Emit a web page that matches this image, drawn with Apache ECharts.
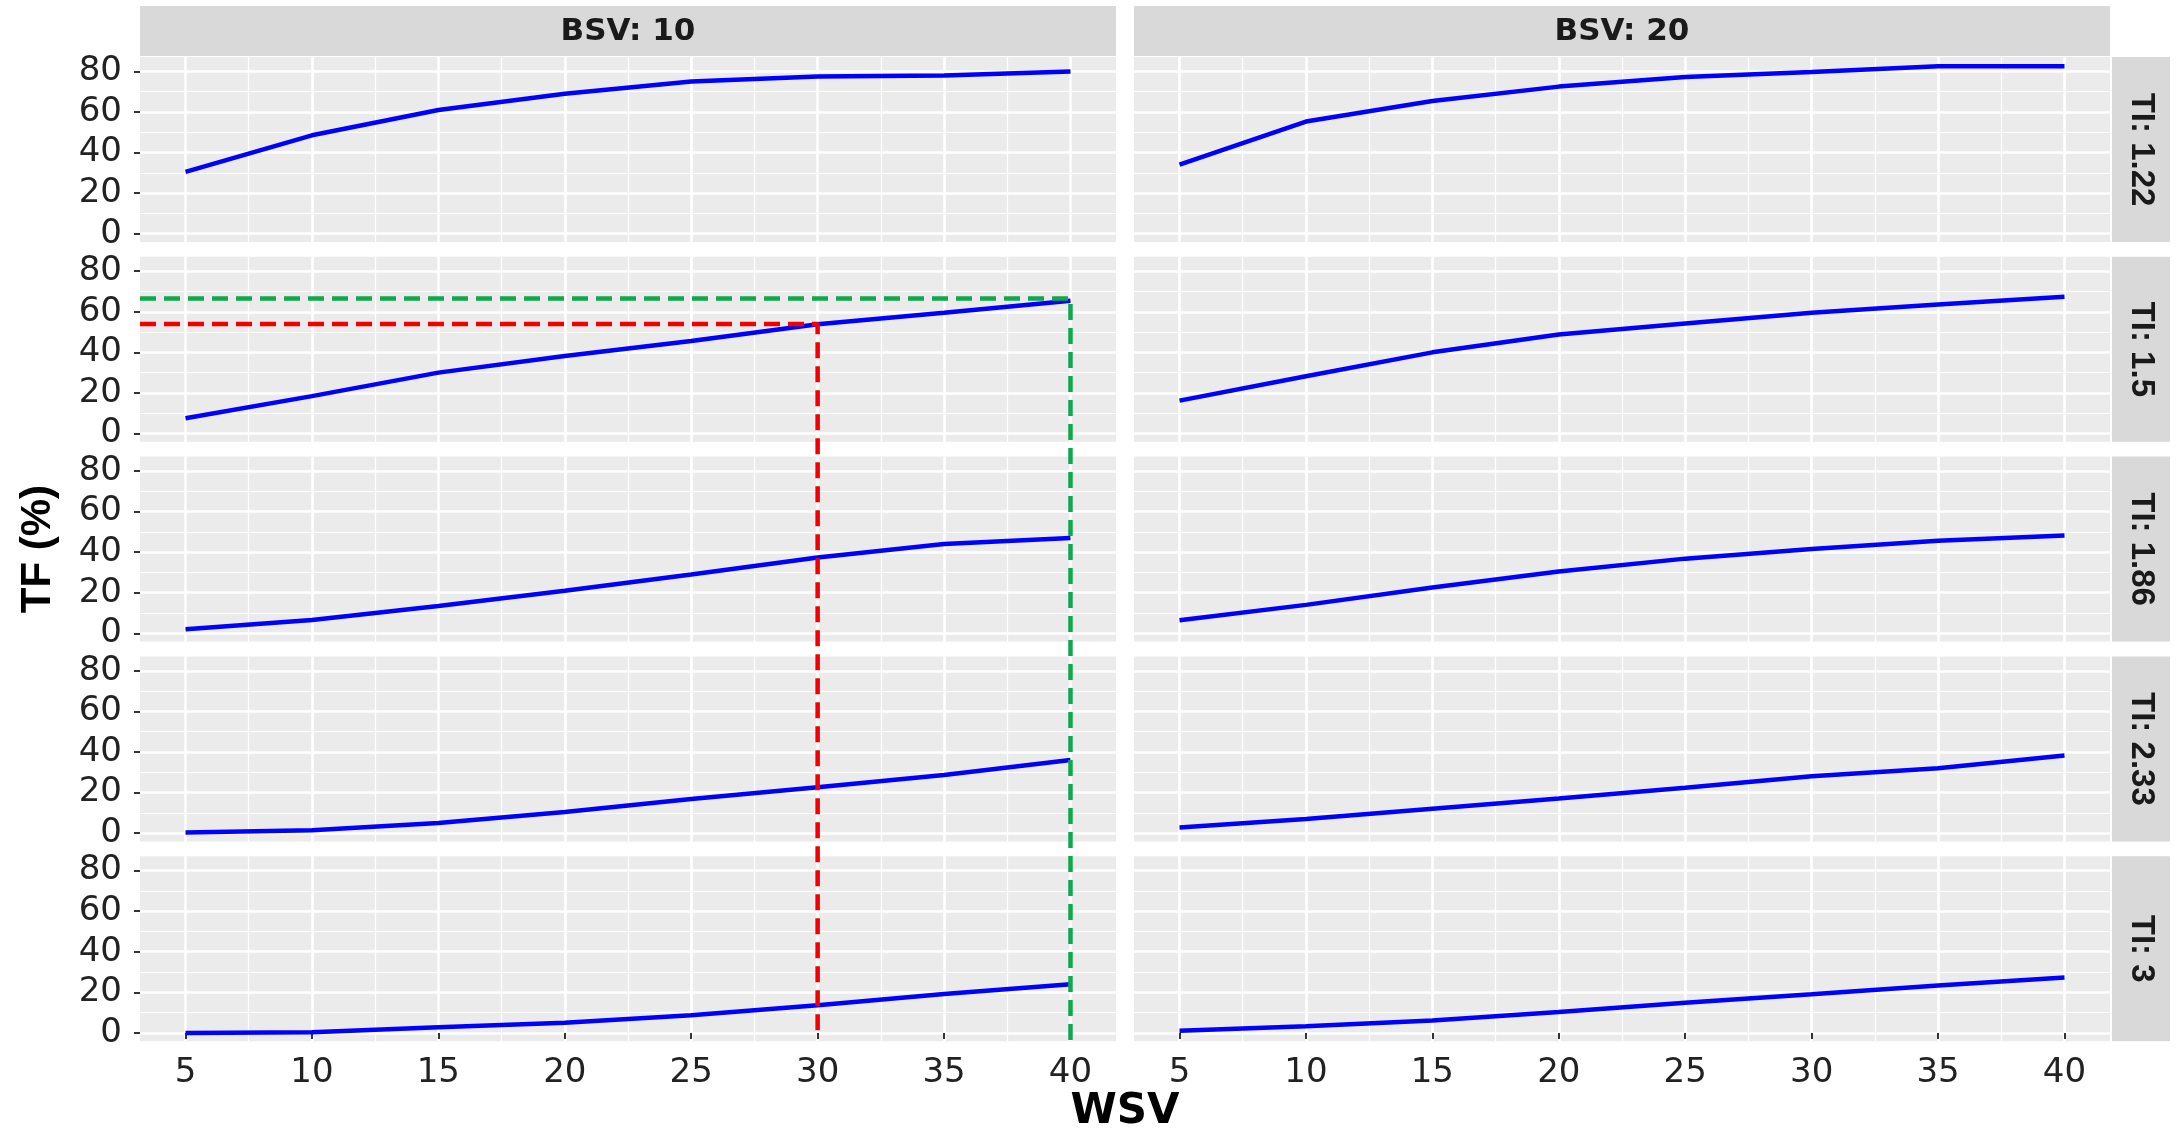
<!DOCTYPE html>
<html>
<head>
<meta charset="utf-8">
<script src="https://cdn.jsdelivr.net/npm/echarts@6/dist/echarts.min.js"></script>
<style>
html, body { margin: 0; padding: 0; background: #fff; }
#main { width: 2178px; height: 1131px; }
</style>
</head>
<body>
<div id="main"></div>
<script>
// ---- data ----
var wsv = [5, 10, 15, 20, 25, 30, 35, 40];
var bsvLevels = ['10', '20'];
var tiLevels = ['1.22', '1.5', '1.86', '2.33', '3'];

// TF (%), one array per (TI, BSV)
var tfBsv10Ti122 = [30.5, 48.5, 61, 69, 75, 77.5, 78, 80];
var tfBsv20Ti122 = [34, 55.3, 65.4, 72.5, 77.2, 79.7, 82.6, 82.6];
var tfBsv10Ti15  = [7.5, 18.4, 30, 38.2, 45.6, 53.8, 59.5, 65.4];
var tfBsv20Ti15  = [16.2, 28.2, 40, 48.8, 54.2, 59.5, 63.6, 67.4];
var tfBsv10Ti186 = [2, 6.5, 13.5, 21, 29, 37.4, 44, 47];
var tfBsv20Ti186 = [6.4, 14, 22.6, 30.5, 36.8, 41.6, 45.6, 48.2];
var tfBsv10Ti233 = [0.3, 1.4, 5, 10.4, 16.8, 22.6, 28.6, 36];
var tfBsv20Ti233 = [2.8, 7, 12, 17, 22.4, 28, 32, 38.3];
var tfBsv10Ti3   = [0, 0.3, 2.8, 5, 8.7, 13.6, 19.2, 24];
var tfBsv20Ti3   = [1, 3.3, 6.1, 10.3, 14.8, 19, 23.4, 27.3];

var xTicks = [5, 10, 15, 20, 25, 30, 35, 40];
var xMinorTicks = [7.5, 12.5, 17.5, 22.5, 27.5, 32.5, 37.5];
var yTicks = [0, 20, 40, 60, 80];
var yMinorTicks = [10, 30, 50, 70];

// reading guides drawn on BSV 10 / TI 1.5
var redGuide = { wsv: 30, tf: 54 };
var greenGuide = { wsv: 40, tf: 66.5 };

var panelData = [
    [tfBsv10Ti122, tfBsv20Ti122],
    [tfBsv10Ti15, tfBsv20Ti15],
    [tfBsv10Ti186, tfBsv20Ti186],
    [tfBsv10Ti233, tfBsv20Ti233],
    [tfBsv10Ti3, tfBsv20Ti3]
];

// ---- layout ----
var X_MIN = 3.2, X_MAX = 41.8;
var Y_MIN = -4.1, Y_MAX = 87.1;
var colLeft = [140, 1134];
var PW = 976;
var ROW_TOP = 57, PITCH = 199.8, PH = 185;
var STRIP_R_X = 2112, STRIP_R_W = 58;
var STRIP_T_Y = 6, STRIP_T_H = 50;

var tickFont = 'DejaVu Sans';
var tickColor = '#222222';

var grids = [], xAxes = [], yAxes = [], series = [];

for (var r = 0; r < tiLevels.length; r++) {
    for (var c = 0; c < bsvLevels.length; c++) {
        var gi = grids.length;
        grids.push({
            left: colLeft[c], top: ROW_TOP + r * PITCH, width: PW, height: PH,
            show: true, backgroundColor: '#ebebeb', borderWidth: 0,
            containLabel: false, outerBoundsMode: 'none'
        });
        // minor grid lines
        xAxes.push({
            gridIndex: gi, type: 'value', min: X_MIN, max: X_MAX,
            axisLine: { show: false }, axisLabel: { show: false },
            axisTick: { show: false, customValues: xMinorTicks },
            splitLine: { show: true, lineStyle: { color: '#ffffff', width: 1.2 } }
        });
        yAxes.push({
            gridIndex: gi, type: 'value', min: Y_MIN, max: Y_MAX,
            axisLine: { show: false }, axisLabel: { show: false },
            axisTick: { show: false, customValues: yMinorTicks },
            splitLine: { show: true, lineStyle: { color: '#ffffff', width: 1.2 } }
        });
        // major axes
        var xi = xAxes.length;
        xAxes.push({
            gridIndex: gi, type: 'value', min: X_MIN, max: X_MAX, position: 'bottom',
            axisLine: { show: false },
            axisTick: { show: r === tiLevels.length - 1, customValues: xTicks, length: 6,
                        lineStyle: { color: '#333333', width: 2 } },
            axisLabel: { show: r === tiLevels.length - 1, customValues: xTicks, margin: 15,
                         fontSize: 34, fontFamily: tickFont, color: tickColor },
            splitLine: { show: true, lineStyle: { color: '#ffffff', width: 2.6 } }
        });
        var yi = yAxes.length;
        yAxes.push({
            gridIndex: gi, type: 'value', min: Y_MIN, max: Y_MAX, position: 'left',
            axisLine: { show: false },
            axisTick: { show: c === 0, customValues: yTicks, length: 6,
                        lineStyle: { color: '#333333', width: 2 } },
            axisLabel: { show: c === 0, customValues: yTicks, margin: 18,
                         fontSize: 34, fontFamily: tickFont, color: tickColor },
            splitLine: { show: true, lineStyle: { color: '#ffffff', width: 2.6 } }
        });
        series.push({
            type: 'line', xAxisIndex: xi, yAxisIndex: yi,
            data: wsv.map(function (w, i) { return [w, panelData[r][c][i]]; }),
            showSymbol: false, symbol: 'none', smooth: false,
            lineStyle: { color: '#0000ff', width: 4.5 },
            silent: true, animation: false
        });
    }
}

// overlay over the BSV 10 column, stacking the five rows in one value axis
var pxPerUnit = PH / (Y_MAX - Y_MIN);
var pitchU = PITCH / pxPerUnit;
function stackY(row, v) { return v + (tiLevels.length - 1 - row) * pitchU; }
var OV_MIN = -8;
var OV_MAX = Y_MAX + (tiLevels.length - 1) * pitchU;
var ovGrid = grids.length;
grids.push({
    left: colLeft[0], top: ROW_TOP, width: PW, height: (OV_MAX - OV_MIN) * pxPerUnit,
    show: false, containLabel: false, outerBoundsMode: 'none'
});
var ovX = xAxes.length;
xAxes.push({ gridIndex: ovGrid, type: 'value', min: X_MIN, max: X_MAX, show: false });
var ovY = yAxes.length;
yAxes.push({ gridIndex: ovGrid, type: 'value', min: OV_MIN, max: OV_MAX, show: false });

var guideRow = tiLevels.indexOf('1.5');
var lastRow = tiLevels.length - 1;
series.push({
    type: 'line', xAxisIndex: ovX, yAxisIndex: ovY, symbol: 'none', silent: true,
    data: [[X_MIN, stackY(guideRow, redGuide.tf)], [redGuide.wsv, stackY(guideRow, redGuide.tf)],
           [redGuide.wsv, stackY(lastRow, 0)]],
    lineStyle: { color: '#f00000', width: 4.5, type: [16, 8] }, animation: false
});
series.push({
    type: 'line', xAxisIndex: ovX, yAxisIndex: ovY, symbol: 'none', silent: true,
    data: [[X_MIN, stackY(guideRow, greenGuide.tf)], [greenGuide.wsv, stackY(guideRow, greenGuide.tf)],
           [greenGuide.wsv, stackY(lastRow, -7)]],
    lineStyle: { color: '#10a84e', width: 4.5, type: [16, 8] }, animation: false
});

// facet strips and axis titles
var graphics = [];
bsvLevels.forEach(function (b, c) {
    graphics.push({ type: 'rect', silent: true,
        shape: { x: colLeft[c], y: STRIP_T_Y, width: PW, height: STRIP_T_H },
        style: { fill: '#d9d9d9' } });
    graphics.push({ type: 'text', silent: true, x: colLeft[c] + PW / 2, y: STRIP_T_Y + STRIP_T_H / 2 + 1,
        style: { text: 'BSV: ' + b, fill: '#1a1a1a', font: 'bold 31px "DejaVu Sans"',
                 textAlign: 'center', textVerticalAlign: 'middle', verticalAlign: 'middle' } });
});
tiLevels.forEach(function (t, r) {
    var top = ROW_TOP + r * PITCH;
    graphics.push({ type: 'rect', silent: true,
        shape: { x: STRIP_R_X, y: top, width: STRIP_R_W, height: PH },
        style: { fill: '#d9d9d9' } });
    graphics.push({ type: 'text', silent: true, x: STRIP_R_X + STRIP_R_W / 2, y: top + PH / 2,
        rotation: -Math.PI / 2,
        style: { text: 'TI: ' + t, fill: '#1a1a1a', font: 'bold 33px "Liberation Sans"',
                 textAlign: 'center', textVerticalAlign: 'middle', verticalAlign: 'middle' } });
});
var plotBottom = ROW_TOP + lastRow * PITCH + PH;
graphics.push({ type: 'text', silent: true, x: 38, y: (ROW_TOP + plotBottom) / 2,
    rotation: Math.PI / 2,
    style: { text: 'TF (%)', fill: '#000000', font: 'bold 42px "Liberation Sans"',
             textAlign: 'center', textVerticalAlign: 'middle', verticalAlign: 'middle' } });
graphics.push({ type: 'text', silent: true, x: (colLeft[0] + colLeft[1] + PW) / 2, y: 1112,
    style: { text: 'WSV', fill: '#000000', font: 'bold 42px "DejaVu Sans"',
             textAlign: 'center', textVerticalAlign: 'middle', verticalAlign: 'middle' } });

var myChart = echarts.init(document.getElementById('main'), null, { renderer: 'canvas' });
var option = {
    backgroundColor: '#ffffff',
    animation: false,
    grid: grids,
    xAxis: xAxes,
    yAxis: yAxes,
    series: series,
    graphic: { elements: graphics }
};
myChart.setOption(option);
</script>
</body>
</html>
